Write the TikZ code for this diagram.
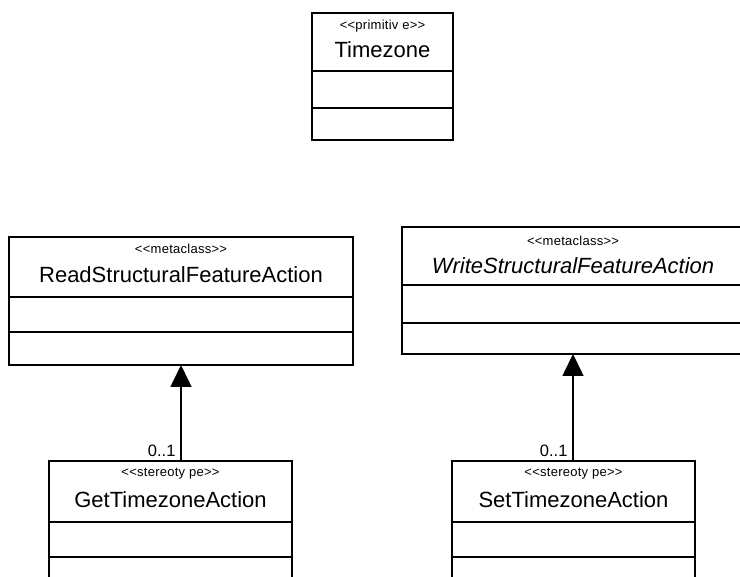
\documentclass[tikz,border=0pt]{standalone}
\usepackage{fontspec}
\setmainfont{Liberation Sans}
\newfontfamily\stereofont[LetterSpace=2]{Liberation Sans}
\usetikzlibrary{calc}
\usetikzlibrary{arrows.meta}

\tikzset{
  classhead/.style={draw, line width=2pt, inner sep=0pt, outer sep=0pt, anchor=north west},
  classpart/.style={draw, line width=2pt, inner sep=0pt, outer sep=0pt, anchor=north},
  stereo/.style={font=\stereofont\fontsize{13}{13}\selectfont, anchor=base},
  cname/.style={font=\fontsize{22}{22}\selectfont, anchor=base},
  mult/.style={font=\fontsize{16.5}{16.5}\selectfont, anchor=base east},
  generalize/.style={line width=1.6pt, -{Triangle[width=21pt,length=22pt]}},
}

\begin{document}
\begin{tikzpicture}[x=1pt,y=-1pt]
        \useasboundingbox (0,0) rectangle (740,577);
        \clip (0,0) rectangle (740,577);

        % Timezone
        \node[classhead, minimum width=141, minimum height=58] (tz) at (312,13) {};
        \node[classpart, minimum width=141, minimum height=37] (tz-attr) at (tz.south) {};
        \node[classpart, minimum width=141, minimum height=32] (tz-ops) at (tz-attr.south) {};
        \node[stereo] (tz-st) at ($(tz.north)+(0,17)$) {<<primitiv e>>};
        \node[cname]  (tz-name) at ($(tz.north)+(0,45)$) {Timezone};

        % ReadStructuralFeatureAction
        \node[classhead, minimum width=344, minimum height=60] (read) at (9,237) {};
        \node[classpart, minimum width=344, minimum height=35] (read-attr) at (read.south) {};
        \node[classpart, minimum width=344, minimum height=33] (read-ops) at (read-attr.south) {};
        \node[stereo] (read-st) at ($(read.north)+(0,17)$) {<<metaclass>>};
        \node[cname]  (read-name) at ($(read.north)+(0,46)$) {ReadStructuralFeatureAction};

        % WriteStructuralFeatureAction
        \node[classhead, minimum width=342, minimum height=58] (write) at (402,227) {};
        \node[classpart, minimum width=342, minimum height=38] (write-attr) at (write.south) {};
        \node[classpart, minimum width=342, minimum height=31] (write-ops) at (write-attr.south) {};
        \node[stereo] (write-st) at ($(write.north)+(0,19)$) {<<metaclass>>};
        \node[cname]  (write-name) at ($(write.north)+(0,47)$) {\itshape WriteStructuralFeatureAction};

        % GetTimezoneAction
        \node[classhead, minimum width=243, minimum height=61] (get) at (49,461) {};
        \node[classpart, minimum width=243, minimum height=35] (get-attr) at (get.south) {};
        \node[classpart, minimum width=243, minimum height=33] (get-ops) at (get-attr.south) {};
        \node[stereo] (get-st) at ($(get.north)+(0,16)$) {<<stereoty pe>>};
        \node[cname]  (get-name) at ($(get.north)+(0,47)$) {GetTimezoneAction};

        % SetTimezoneAction
        \node[classhead, minimum width=243, minimum height=61] (set) at (452,461) {};
        \node[classpart, minimum width=243, minimum height=35] (set-attr) at (set.south) {};
        \node[classpart, minimum width=243, minimum height=33] (set-ops) at (set-attr.south) {};
        \node[stereo] (set-st) at ($(set.north)+(0,16)$) {<<stereoty pe>>};
        \node[cname]  (set-name) at ($(set.north)+(0,47)$) {SetTimezoneAction};

        % generalizations
        \draw[generalize] (get.north -| read-ops.south) -- (read-ops.south);
        \draw[generalize] (set.north -| write-ops.south) -- (write-ops.south);

        \node[mult] (get-mult) at ($(get.north -| read-ops.south)+(-2,-4)$) {0..1};
        \node[mult] (set-mult) at ($(set.north -| write-ops.south)+(-2,-4)$) {0..1};
    \end{tikzpicture}
\end{document}
